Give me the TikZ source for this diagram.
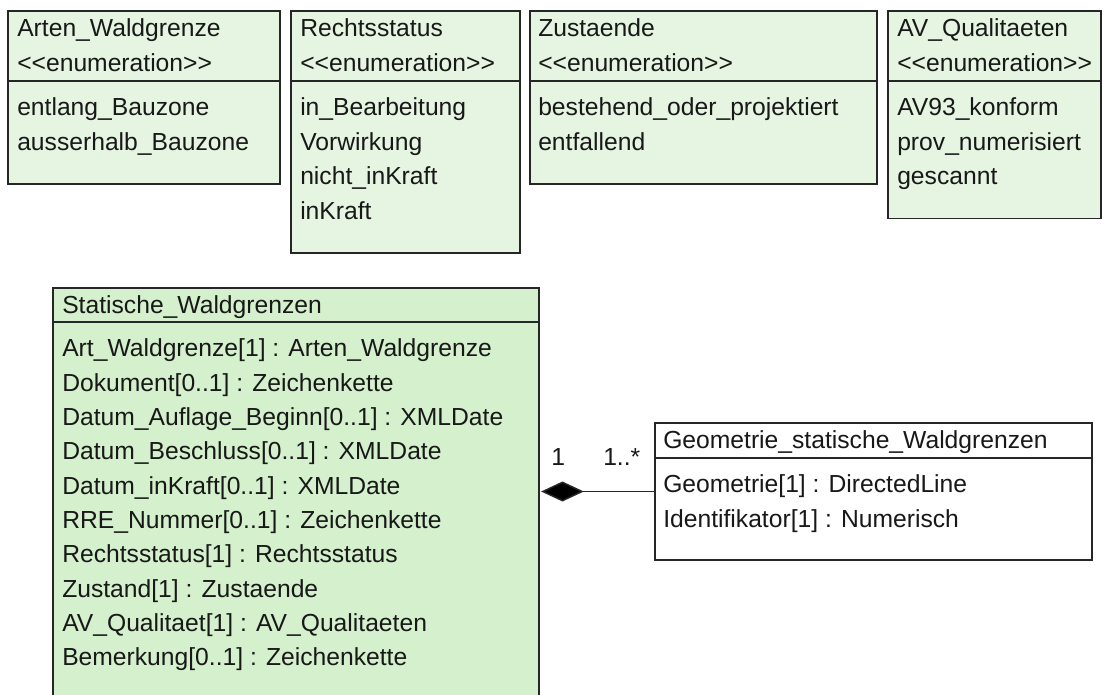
\documentclass[tikz,border=0pt]{standalone}
\usepackage{fontspec}
\setmainfont{Liberation Sans}
\usetikzlibrary{arrows.meta,fit}

\definecolor{enumfill}{RGB}{230,245,226}
\definecolor{classfill}{RGB}{212,240,204}
\definecolor{edge}{RGB}{38,38,38}
\definecolor{ink}{RGB}{24,24,24}

% stereotype text, kept apart so the font mapping does not turn << into a guillemet
\newcommand{\enumstereo}{<\kern0pt<enumeration>\kern0pt>}

\tikzset{
  umlbox/.style={draw=edge, line width=1.2pt, inner sep=0pt},
  enumbox/.style={umlbox, fill=enumfill},
  classbox/.style={umlbox, fill=classfill},
  plainbox/.style={umlbox, fill=white},
  divider/.style={draw=edge, line width=1.2pt},
  txt/.style={anchor=base west, inner sep=0pt, text=ink},
  composition/.style={draw=edge, line width=1.1pt,
    -{Diamond[length=32pt,width=15pt,fill=black]}, shorten >=1pt}
}

\begin{document}
\begin{tikzpicture}[x=0.75pt, y=-0.75pt, font=\fontsize{18.5}{22}\selectfont]
\useasboundingbox (0,0) rectangle (1104,695);
\clip (0,0) rectangle (1104,695);

% ---- enumeration Arten_Waldgrenze
\node[enumbox, fit={(8,11) (280,184)}] (arten) {};
\draw[divider] (arten.west |- 0,81) -- (arten.east |- 0,81);
\node[txt] (arten-name) at (17,37) {Arten\_Waldgrenze};
\node[txt] (arten-st)   at (17,71.5) {\enumstereo};
\node[txt] (arten-v1)   at (17,116) {entlang\_Bauzone};
\node[txt] (arten-v2)   at (17,150.5) {ausserhalb\_Bauzone};

% ---- enumeration Rechtsstatus
\node[enumbox, fit={(291,11) (520,253)}] (recht) {};
\draw[divider] (recht.west |- 0,81) -- (recht.east |- 0,81);
\node[txt] (recht-name) at (300,37) {Rechtsstatus};
\node[txt] (recht-st)   at (300,71.5) {\enumstereo};
\node[txt] (recht-v1)   at (300,116) {in\_Bearbeitung};
\node[txt] (recht-v2)   at (300,150.5) {Vorwirkung};
\node[txt] (recht-v3)   at (300,185) {nicht\_inKraft};
\node[txt] (recht-v4)   at (300,219.5) {inKraft};

% ---- enumeration Zustaende
\node[enumbox, fit={(530,11) (877,184)}] (zust) {};
\draw[divider] (zust.west |- 0,81) -- (zust.east |- 0,81);
\node[txt] (zust-name) at (538,37) {Zustaende};
\node[txt] (zust-st)   at (538,71.5) {\enumstereo};
\node[txt] (zust-v1)   at (538,116) {bestehend\_oder\_projektiert};
\node[txt] (zust-v2)   at (538,150.5) {entfallend};

% ---- enumeration AV_Qualitaeten
\node[enumbox, fit={(888,11) (1101,218.5)}] (avq) {};
\draw[divider] (avq.west |- 0,81) -- (avq.east |- 0,81);
\node[txt] (avq-name) at (897,37) {AV\_Qualitaeten};
\node[txt] (avq-st)   at (897,71.5) {\enumstereo};
\node[txt] (avq-v1)   at (897,116) {AV93\_konform};
\node[txt] (avq-v2)   at (897,150.5) {prov\_numerisiert};
\node[txt] (avq-v3)   at (897,185) {gescannt};

% ---- class Statische_Waldgrenzen (runs past the lower edge)
\node[classbox, fit={(53,288) (539,720)}] (stat) {};
\draw[divider] (stat.west |- 0,322) -- (stat.east |- 0,322);
\node[txt] (stat-name) at (62,314) {Statische\_Waldgrenzen};
\node[txt] (stat-a1)  at (62,357.0) {Art\_Waldgrenze[1] : Arten\_Waldgrenze};
\node[txt] (stat-a2)  at (62,391.3) {Dokument[0..1] : Zeichenkette};
\node[txt] (stat-a3)  at (62,425.6) {Datum\_Auflage\_Beginn[0..1] : XMLDate};
\node[txt] (stat-a4)  at (62,459.9) {Datum\_Beschluss[0..1] : XMLDate};
\node[txt] (stat-a5)  at (62,494.2) {Datum\_inKraft[0..1] : XMLDate};
\node[txt] (stat-a6)  at (62,528.5) {RRE\_Nummer[0..1] : Zeichenkette};
\node[txt] (stat-a7)  at (62,562.8) {Rechtsstatus[1] : Rechtsstatus};
\node[txt] (stat-a8)  at (62,597.1) {Zustand[1] : Zustaende};
\node[txt] (stat-a9)  at (62,631.4) {AV\_Qualitaet[1] : AV\_Qualitaeten};
\node[txt] (stat-a10) at (62,665.7) {Bemerkung[0..1] : Zeichenkette};

% ---- class Geometrie_statische_Waldgrenzen
\node[plainbox, fit={(655,423) (1092,560)}] (geo) {};
\draw[divider] (geo.west |- 0,458) -- (geo.east |- 0,458);
\node[txt] (geo-name) at (663,449) {Geometrie\_statische\_Waldgrenzen};
\node[txt] (geo-a1)   at (663,493) {Geometrie[1] : DirectedLine};
\node[txt] (geo-a2)   at (663,527.5) {Identifikator[1] : Numerisch};

% ---- composition with its multiplicities
\draw[composition] (geo.west) -- (stat.east |- geo.west);
\node[txt] (mult-whole) at (551,465) {1};
\node[txt] (mult-part)  at (603,465) {1..*};
\end{tikzpicture}
\end{document}
